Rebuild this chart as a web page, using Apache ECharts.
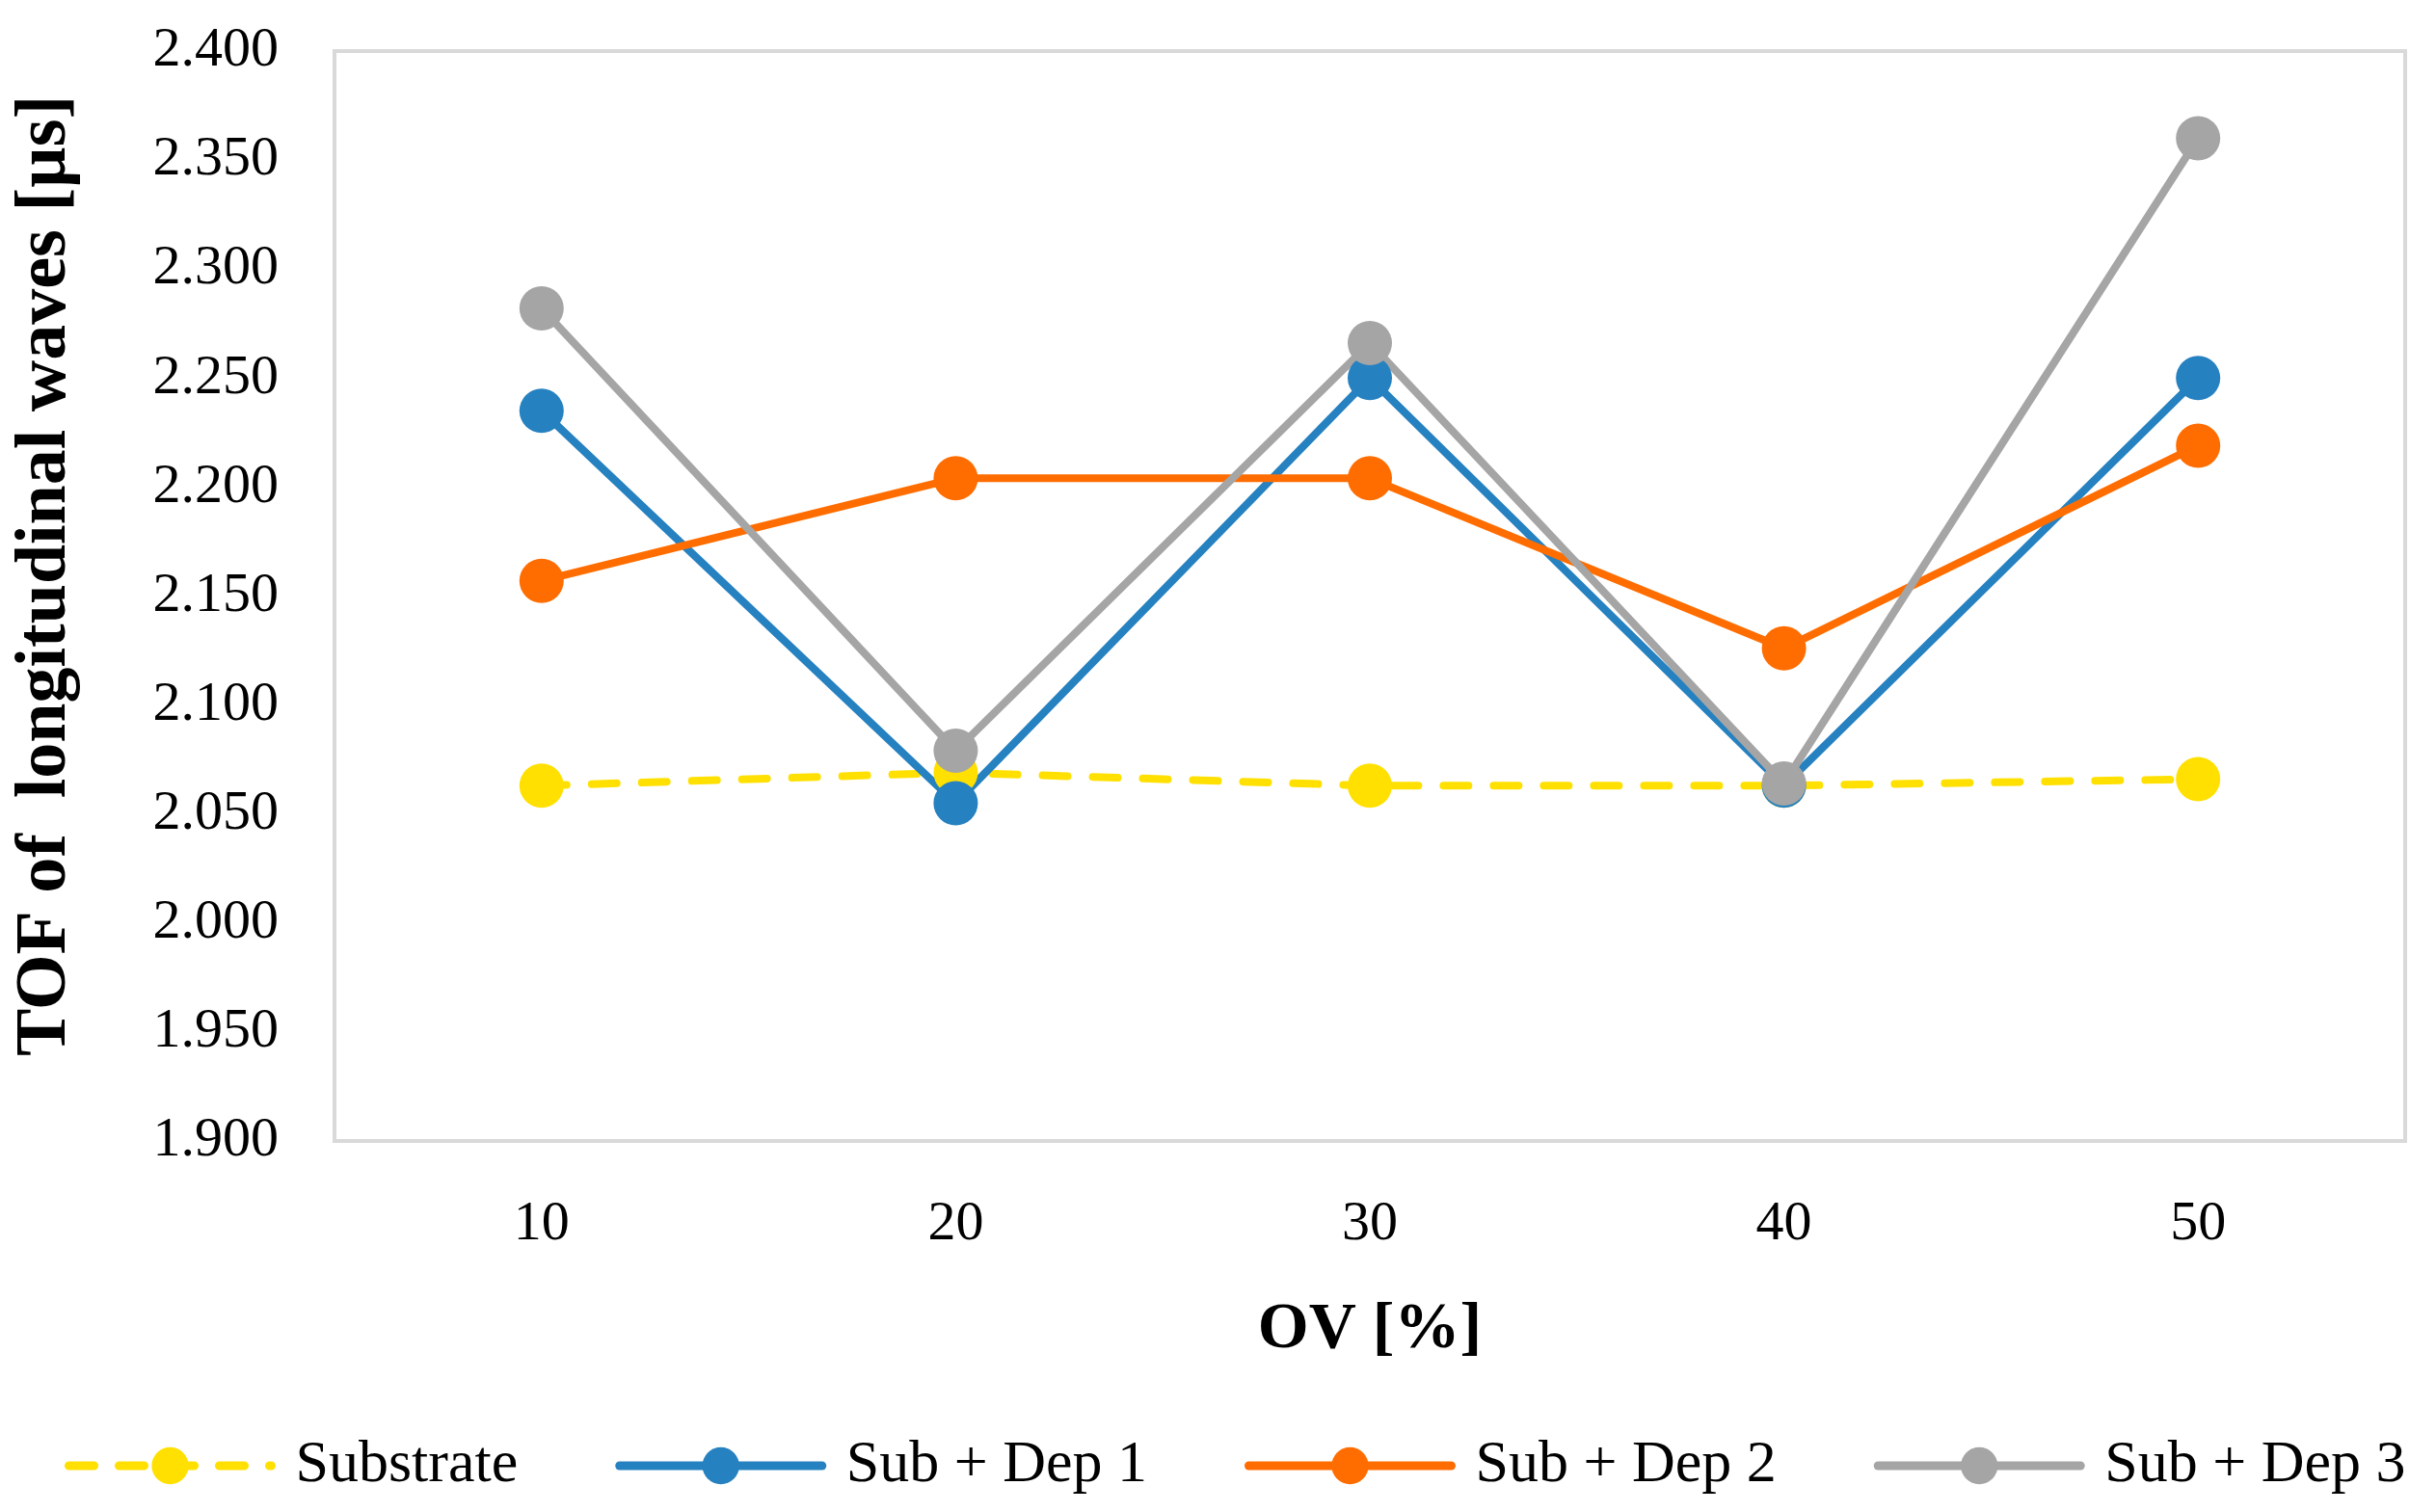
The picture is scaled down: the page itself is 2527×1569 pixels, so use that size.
<!DOCTYPE html>
<html>
<head>
<meta charset="utf-8">
<script src="https://cdn.jsdelivr.net/npm/echarts@6/dist/echarts.min.js"></script>
<style>
html,body{margin:0;padding:0;background:#fff;}
#chart{width:2527px;height:1569px;}
</style>
</head>
<body>
<div id="chart"></div>
<script>
const categories = ['10', '20', '30', '40', '50'];
const substrate = [2.063, 2.069, 2.063, 2.063, 2.066];
const subDep1 = [2.235, 2.055, 2.250, 2.063, 2.250];
const subDep2 = [2.157, 2.204, 2.204, 2.126, 2.219];
const subDep3 = [2.282, 2.079, 2.266, 2.064, 2.360];
const seriesNames = ['Substrate', 'Sub + Dep 1', 'Sub + Dep 2', 'Sub + Dep 3'];
const colors = ['#FFE000', '#2681C0', '#FF6D00', '#A5A5A5'];

const FONT = '"Liberation Serif", "Times New Roman", serif';
const chart = echarts.init(document.getElementById('chart'));

function mk(name, data, color, dashed) {
  return {
    name: name,
    type: 'line',
    data: data,
    symbol: 'circle',
    symbolSize: 46,
    itemStyle: { color: color },
    lineStyle: { color: color, width: 8, type: dashed ? [26, 26] : 'solid', cap: 'round' },
    emphasis: { disabled: true },
    animation: false
  };
}

chart.setOption({
  backgroundColor: '#ffffff',
  animation: false,
  grid: {
    left: 347, right: 32, top: 53, bottom: 385,
    show: true, borderColor: '#D9D9D9', borderWidth: 4, backgroundColor: 'transparent'
  },
  legend: {
    data: seriesNames,
    left: 62, top: 1485,
    itemWidth: 210, itemHeight: 48, itemGap: 101,
    lineStyle: { width: 9 },
    textStyle: { fontFamily: FONT, fontSize: 62, color: '#000', padding: [0, 0, 0, 20] }
  },
  xAxis: {
    type: 'category',
    data: categories,
    boundaryGap: true,
    axisLine: { show: false },
    axisTick: { show: false },
    axisLabel: { fontFamily: FONT, fontSize: 58, color: '#000', margin: 58 },
    name: 'OV [%]',
    nameLocation: 'middle',
    nameGap: 162,
    nameTextStyle: { fontFamily: FONT, fontSize: 68, fontWeight: 'bold', color: '#000' },
    splitLine: { show: false }
  },
  yAxis: {
    type: 'value',
    min: 1.9, max: 2.4, interval: 0.05,
    axisLine: { show: false },
    axisTick: { show: false },
    splitLine: { show: false },
    axisLabel: {
      fontFamily: FONT, fontSize: 58, color: '#000', margin: 58,
      formatter: v => v.toFixed(3)
    },
    name: 'TOF of  longitudinal waves [µs]',
    nameLocation: 'middle',
    nameGap: 262,
    nameTextStyle: { fontFamily: FONT, fontSize: 74, fontWeight: 'bold', color: '#000', padding: [0, 0, 0, 42] }
  },
  series: [
    mk(seriesNames[0], substrate, colors[0], true),
    mk(seriesNames[1], subDep1, colors[1], false),
    mk(seriesNames[2], subDep2, colors[2], false),
    mk(seriesNames[3], subDep3, colors[3], false)
  ]
});
</script>
</body>
</html>
